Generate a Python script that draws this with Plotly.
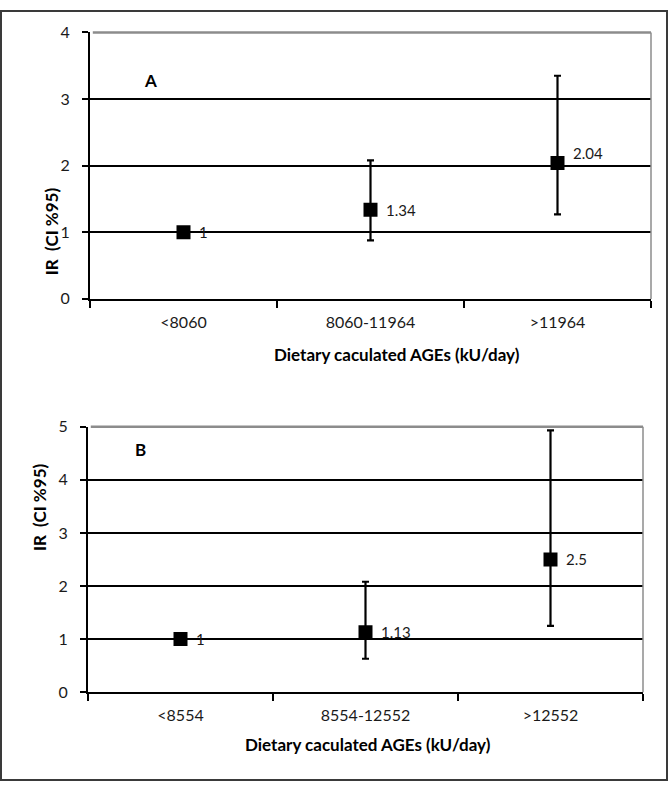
import plotly.graph_objects as go

# ---- data ----
cats_a = ["<8060", "8060-11964", ">11964"]
ir_a = [1, 1.34, 2.04]
lo_a = [1, 0.88, 1.27]
hi_a = [1, 2.08, 3.35]

cats_b = ["<8554", "8554-12552", ">12552"]
ir_b = [1, 1.13, 2.5]
lo_b = [1, 0.63, 1.25]
hi_b = [1, 2.08, 4.93]

yticks_a = [0, 1, 2, 3, 4]
yticks_b = [0, 1, 2, 3, 4, 5]

xtitle = "Dietary caculated AGEs (kU/day)"
ytitle = "IR  (CI %95)"

FONT = "Lato"
W, H = 668, 791

fig = go.Figure()


def add_panel(cats, ir, lo, hi, xa, ya):
    fig.add_trace(go.Scatter(
        x=cats, y=ir, mode="markers", xaxis=xa, yaxis=ya,
        marker=dict(symbol="square", size=14, color="black"),
        error_y=dict(type="data", symmetric=False,
                     array=[h - v for h, v in zip(hi, ir)],
                     arrayminus=[v - l for v, l in zip(ir, lo)],
                     color="black", thickness=2.2, width=3.5),
        showlegend=False, hoverinfo="skip",
    ))


add_panel(cats_a, ir_a, lo_a, hi_a, "x", "y")
add_panel(cats_b, ir_b, lo_b, hi_b, "x2", "y2")

tickfont = dict(family=FONT, size=16, color="#1a1a1a")
xcommon = dict(type="category", range=[-0.5, 2.5], showgrid=False,
               showline=True, linecolor="black", linewidth=2,
               ticks="outside", tickson="boundaries", ticklen=7, tickwidth=1.5,
               tickcolor="black", ticklabelstandoff=8,
               tickfont=tickfont, fixedrange=True)
ycommon = dict(showgrid=True, gridcolor="black", gridwidth=2, zeroline=False,
               showline=True, linecolor="black", linewidth=2,
               ticks="outside", ticklen=6, tickwidth=1.5, tickcolor="black",
               ticklabelstandoff=9,
               tickfont=tickfont, fixedrange=True)

fig.update_layout(
    width=W, height=H,
    margin=dict(l=0, r=0, t=0, b=0),
    paper_bgcolor="white", plot_bgcolor="white",
    xaxis=dict(xcommon, domain=[90 / W, 651 / W], anchor="y"),
    yaxis=dict(ycommon, domain=[(H - 296) / H, (H - 23) / H], anchor="x",
               range=[0, 4], tickvals=yticks_a),
    xaxis2=dict(xcommon, domain=[88 / W, 643 / W], anchor="y2"),
    yaxis2=dict(ycommon, domain=[(H - 699) / H, (H - 427) / H], anchor="x2",
                range=[0, 5], tickvals=yticks_b),
)

shapes = []
for xr, yr in (("x domain", "y domain"), ("x2 domain", "y2 domain")):
    shapes.append(dict(type="line", xref=xr, yref=yr, x0=0.005, x1=1, y0=1, y1=1,
                       line=dict(color="#8c8c8c", width=2.5), layer="above"))
    shapes.append(dict(type="line", xref=xr, yref=yr, x0=1, x1=1, y0=0, y1=1,
                       line=dict(color="#8c8c8c", width=1.5), layer="above"))
shapes.append(dict(type="rect", xref="paper", yref="paper",
                   x0=1 / W, x1=(W - 1) / W, y0=2 / H, y1=(H - 1) / H,
                   line=dict(color="#3a3a3a", width=2), fillcolor="rgba(0,0,0,0)"))
fig.update_layout(shapes=shapes)

ann = []
lblfont = dict(family=FONT, size=15, color="#1a1a1a")
shifts_a = [0, 0, 10]
for c, v, ys in zip(cats_a, ir_a, shifts_a):
    ann.append(dict(x=c, y=v, xref="x", yref="y", text=f"{v:g}", showarrow=False,
                    xanchor="left", yanchor="middle", xshift=13, yshift=ys,
                    font=lblfont))
for c, v in zip(cats_b, ir_b):
    ann.append(dict(x=c, y=v, xref="x2", yref="y2", text=f"{v:g}", showarrow=False,
                    xanchor="left", yanchor="middle", xshift=13,
                    font=lblfont))

bold = dict(family=FONT, size=17, color="black")
ann.append(dict(x=142 / W, y=(H - 59) / H, xref="paper", yref="paper", text="<b>A</b>",
                showarrow=False, font=bold))
ann.append(dict(x=133 / W, y=(H - 450) / H, xref="paper", yref="paper", text="<b>B</b>",
                showarrow=False, font=bold))
ann.append(dict(x=397 / W, y=(H - 353) / H, xref="paper", yref="paper",
                text=f"<b>{xtitle}</b>", showarrow=False, font=bold))
ann.append(dict(x=368 / W, y=(H - 765) / H, xref="paper", yref="paper",
                text=f"<b>{xtitle}</b>", showarrow=False, font=bold))
ytxt = "<b>" + ytitle.replace(" ", "&nbsp;") + "</b>"
ann.append(dict(x=39 / W, y=(H - 180) / H, xref="paper", yref="paper",
                text=ytxt, textangle=-90, showarrow=False, font=bold))
ann.append(dict(x=27 / W, y=(H - 557) / H, xref="paper", yref="paper",
                text=ytxt, textangle=-90, showarrow=False, font=bold))
fig.update_layout(annotations=ann)

fig.write_html("out.html", config={"displayModeBar": False},
               post_script="document.body.style.margin='0';document.body.style.overflow='hidden';")
